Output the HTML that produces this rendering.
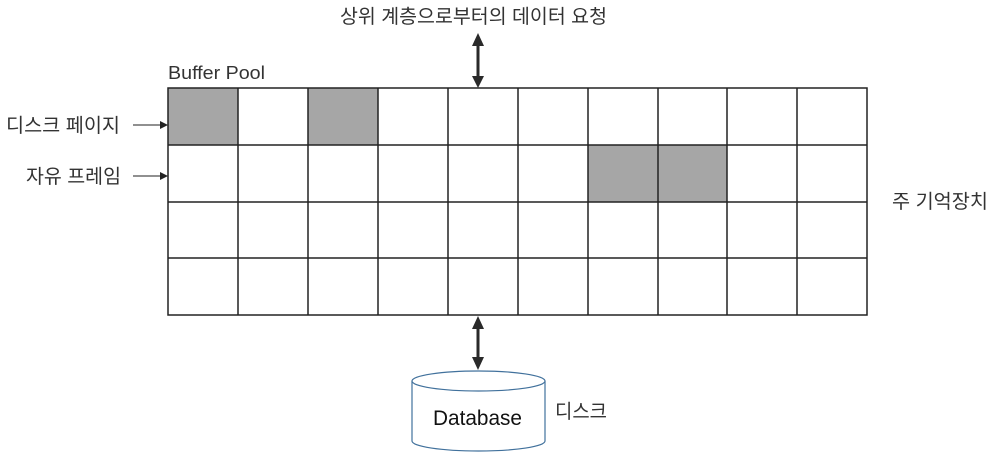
<!DOCTYPE html>
<html><head><meta charset="utf-8"><style>
body{margin:0;background:#fff;}
svg text{font-family:"Liberation Sans","Noto Sans CJK KR",sans-serif;}
</style></head><body>
<svg width="993" height="459" viewBox="0 0 993 459" xmlns="http://www.w3.org/2000/svg">
<defs>
<marker id="a" markerWidth="8" markerHeight="8" refX="7" refY="4" orient="auto" markerUnits="userSpaceOnUse"><path d="M0,0 L8,4 L0,8 z" fill="#222"/></marker>
</defs>
<g fill="#a6a6a6">
<rect x="168" y="88" width="70" height="57"/>
<rect x="308" y="88" width="70" height="57"/>
<rect x="588" y="145" width="70" height="57"/>
<rect x="658" y="145" width="69" height="57"/>
</g>
<g stroke="#222" stroke-width="1.5" fill="none">
<rect x="168" y="88" width="699" height="227"/>
<path d="M238 88V315M308 88V315M378 88V315M448 88V315M518 88V315M588 88V315M658 88V315M727 88V315M797 88V315"/>
<path d="M168 145H867M168 202H867M168 258H867"/>
</g>
<g stroke="#222" stroke-width="1">
<line x1="133" y1="125" x2="167" y2="125" marker-end="url(#a)"/>
<line x1="133" y1="176" x2="167" y2="176" marker-end="url(#a)"/>
</g>
<g fill="#2a2a2a">
<rect x="476.5" y="44" width="3" height="34"/>
<path d="M472 46 L478 33 L484 46 z"/>
<path d="M472 76 L478 88 L484 76 z"/>
<rect x="476.5" y="327" width="3" height="32"/>
<path d="M472 329 L478 316 L484 329 z"/>
<path d="M472 357 L478 370 L484 357 z"/>
</g>
<g stroke="#41719c" stroke-width="1.2" fill="#fff">
<path d="M412 381 V441 A66.5 10 0 0 0 545 441 V381"/>
<ellipse cx="478.5" cy="381" rx="66.5" ry="10"/>
</g>
<g font-size="19.5" fill="#333">
<text x="340" y="23" textLength="267" lengthAdjust="spacingAndGlyphs">상위 계층으로부터의 데이터 요청</text>
<text x="168" y="79" font-size="18.5" textLength="97" lengthAdjust="spacingAndGlyphs">Buffer Pool</text>
<text x="6" y="132" textLength="114" lengthAdjust="spacingAndGlyphs">디스크 페이지</text>
<text x="26" y="183" textLength="95" lengthAdjust="spacingAndGlyphs">자유 프레임</text>
<text x="892" y="208" textLength="96" lengthAdjust="spacingAndGlyphs">주 기억장치</text>
<text x="555" y="418" textLength="52" lengthAdjust="spacingAndGlyphs">디스크</text>
<text x="433" y="425" font-size="21" fill="#111" textLength="89" lengthAdjust="spacingAndGlyphs">Database</text>
</g>
</svg>
</body></html>
